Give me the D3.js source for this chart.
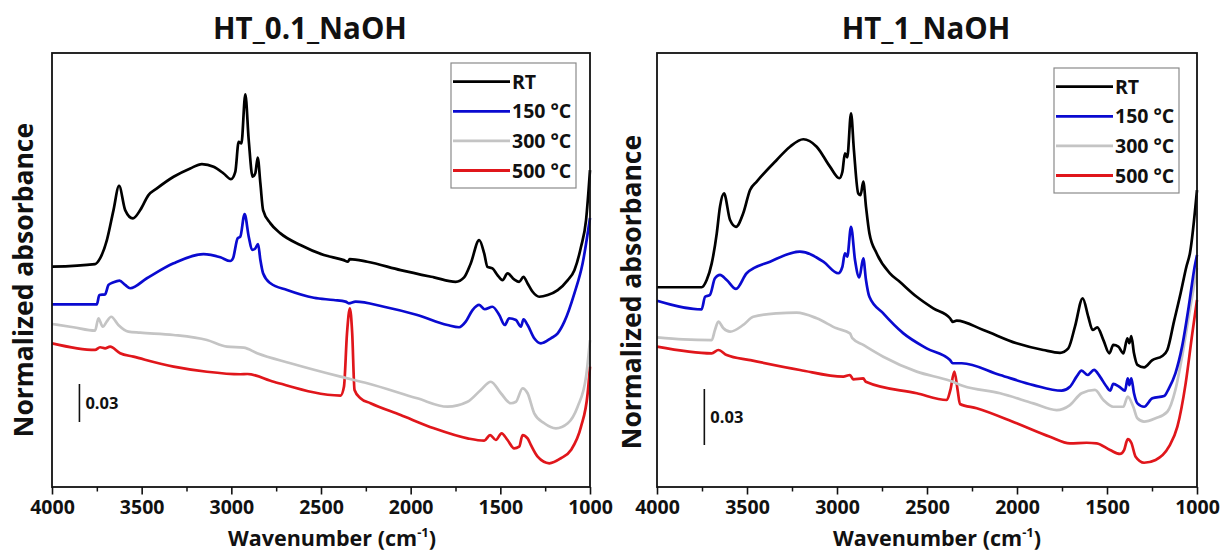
<!DOCTYPE html>
<html><head><meta charset="utf-8">
<script src="https://cdn.jsdelivr.net/npm/d3@7"></script>
<style>
body{margin:0;background:#fff;}
svg{display:block;font-family:"Open Sans",sans-serif;font-weight:700;}
</style></head><body>
<svg id="chart" width="1221" height="551"></svg>
<script>
// ---------- DATA ----------
const majorTicks = [4000, 3500, 3000, 2500, 2000, 1500, 1000];
const minorTicks = [3750, 3250, 2750, 2250, 1750, 1250];
const seriesLabels = ["RT", "150 °C", "300 °C", "500 °C"];
const panelTitles = ["HT_0.1_NaOH", "HT_1_NaOH"];
const scaleBarValue = 0.03;

// HT_0.1_NaOH  [wavenumber, normalized absorbance (offset)]
const a_RT = [[4000,0.1739],[3760,0.1760],[3732,0.1805],[3694,0.1949],[3657,0.2186],[3626,0.2378],[3592,0.2186],[3549,0.2120],[3508,0.2186],[3462,0.2304],[3415,0.2357],[3322,0.2449],[3229,0.2515],[3164,0.2549],[3099,0.2528],[3043,0.2475],[3002,0.2430],[2978,0.2488],[2959,0.2725],[2944,0.2712],[2922,0.3099],[2903,0.2738],[2881,0.2449],[2866,0.2478],[2853,0.2601],[2838,0.2396],[2823,0.2186],[2782,0.2081],[2726,0.2002],[2615,0.1910],[2484,0.1831],[2373,0.1791],[2350,0.1778],[2340,0.1799],[2242,0.1778],[2056,0.1712],[1870,0.1655],[1749,0.1620],[1702,0.1655],[1665,0.1765],[1618,0.1949],[1590,0.1844],[1572,0.1738],[1544,0.1726],[1516,0.1673],[1488,0.1633],[1460,0.1686],[1423,0.1639],[1395,0.1620],[1371,0.1659],[1348,0.1607],[1320,0.1541],[1283,0.1502],[1236,0.1515],[1180,0.1554],[1124,0.1633],[1087,0.1712],[1050,0.1896],[1022,0.2107],[1000,0.2501]];
const a_150 = [[4000,0.1442],[3750,0.1442],[3736,0.1516],[3704,0.1521],[3685,0.1595],[3657,0.1616],[3624,0.1629],[3592,0.1595],[3564,0.1569],[3471,0.1648],[3322,0.1766],[3155,0.1839],[3061,0.1813],[3006,0.1784],[2990,0.1808],[2965,0.1963],[2950,0.1976],[2926,0.2155],[2903,0.1976],[2884,0.1871],[2866,0.1884],[2851,0.1918],[2838,0.1792],[2823,0.1687],[2782,0.1608],[2689,0.1555],[2540,0.1494],[2429,0.1476],[2363,0.1463],[2345,0.1450],[2307,0.1463],[2149,0.1423],[1963,0.1358],[1795,0.1279],[1730,0.1261],[1693,0.1305],[1655,0.1397],[1618,0.1437],[1587,0.1403],[1544,0.1423],[1506,0.1358],[1475,0.1279],[1451,0.1332],[1413,0.1318],[1385,0.1265],[1371,0.1324],[1348,0.1279],[1311,0.1174],[1274,0.1134],[1218,0.1174],[1180,0.1213],[1143,0.1305],[1087,0.1529],[1041,0.1766],[1000,0.2124]];
const a_300 = [[4000,0.1287],[3881,0.1261],[3760,0.1234],[3741,0.1332],[3717,0.1265],[3695,0.1305],[3670,0.1344],[3630,0.1279],[3574,0.1226],[3508,0.1218],[3322,0.1200],[3136,0.1160],[3024,0.1108],[2931,0.1100],[2856,0.1056],[2670,0.0977],[2391,0.0871],[2242,0.0819],[1963,0.0700],[1795,0.0634],[1683,0.0673],[1609,0.0766],[1553,0.0831],[1497,0.0740],[1441,0.0661],[1413,0.0673],[1376,0.0779],[1348,0.0740],[1311,0.0582],[1255,0.0503],[1190,0.0463],[1124,0.0503],[1069,0.0634],[1022,0.0871],[1000,0.1160]];
const a_500 = [[4000,0.1134],[3760,0.1082],[3732,0.1103],[3704,0.1095],[3676,0.1108],[3620,0.1056],[3546,0.1029],[3322,0.0950],[3136,0.0910],[2950,0.0890],[2910,0.0892],[2764,0.0831],[2391,0.0722],[2372,0.0792],[2355,0.1213],[2339,0.1411],[2326,0.1213],[2313,0.0766],[2280,0.0700],[2224,0.0661],[2056,0.0568],[1870,0.0463],[1683,0.0384],[1590,0.0366],[1557,0.0410],[1525,0.0371],[1493,0.0424],[1460,0.0371],[1423,0.0305],[1395,0.0318],[1376,0.0410],[1348,0.0384],[1330,0.0332],[1292,0.0239],[1227,0.0187],[1162,0.0227],[1106,0.0292],[1050,0.0476],[1013,0.0740],[1000,0.0950]];

// HT_1_NaOH
const b_RT = [[4000,0.1070],[3752,0.1070],[3724,0.1109],[3696,0.1198],[3668,0.1359],[3650,0.1502],[3628,0.1573],[3594,0.1430],[3561,0.1394],[3521,0.1466],[3483,0.1591],[3446,0.1636],[3335,0.1752],[3261,0.1823],[3187,0.1863],[3113,0.1823],[3039,0.1716],[2987,0.1654],[2970,0.1689],[2956,0.1788],[2943,0.1766],[2922,0.2002],[2906,0.1805],[2882,0.1573],[2869,0.1564],[2854,0.1636],[2839,0.1502],[2820,0.1359],[2780,0.1252],[2706,0.1145],[2650,0.1098],[2557,0.1019],[2465,0.0957],[2372,0.0904],[2357,0.0885],[2335,0.0891],[2187,0.0841],[2002,0.0770],[1854,0.0734],[1761,0.0719],[1715,0.0743],[1678,0.0859],[1635,0.1011],[1604,0.0912],[1580,0.0841],[1554,0.0855],[1520,0.0787],[1487,0.0716],[1465,0.0761],[1437,0.0752],[1409,0.0716],[1387,0.0797],[1376,0.0770],[1365,0.0809],[1350,0.0716],[1331,0.0654],[1294,0.0641],[1248,0.0680],[1193,0.0702],[1165,0.0734],[1128,0.0886],[1091,0.1038],[1059,0.1180],[1039,0.1254],[1000,0.1591]];
const b_150 = [[4000,0.0998],[3752,0.0952],[3733,0.1019],[3706,0.1029],[3678,0.1118],[3650,0.1136],[3613,0.1109],[3561,0.1061],[3502,0.1145],[3372,0.1207],[3206,0.1261],[3076,0.1207],[2993,0.1145],[2970,0.1180],[2956,0.1252],[2943,0.1234],[2922,0.1394],[2900,0.1216],[2876,0.1123],[2854,0.1225],[2839,0.1109],[2820,0.1019],[2743,0.0930],[2631,0.0823],[2502,0.0743],[2372,0.0680],[2357,0.0663],[2307,0.0663],[2094,0.0600],[1909,0.0546],[1752,0.0516],[1706,0.0537],[1669,0.0591],[1641,0.0623],[1607,0.0600],[1572,0.0627],[1539,0.0591],[1502,0.0537],[1483,0.0516],[1465,0.0552],[1432,0.0537],[1400,0.0516],[1385,0.0582],[1376,0.0546],[1365,0.0582],[1350,0.0502],[1331,0.0448],[1294,0.0430],[1248,0.0475],[1183,0.0487],[1156,0.0529],[1120,0.0609],[1083,0.0752],[1046,0.0966],[1013,0.1180],[1000,0.1243]];
const b_300 = [[4000,0.0802],[3854,0.0791],[3696,0.0787],[3678,0.0841],[3659,0.0886],[3631,0.0850],[3594,0.0832],[3521,0.0868],[3465,0.0912],[3335,0.0930],[3224,0.0934],[3113,0.0904],[3002,0.0850],[2928,0.0823],[2915,0.0797],[2854,0.0761],[2743,0.0698],[2557,0.0618],[2372,0.0569],[2298,0.0541],[2094,0.0502],[1909,0.0448],[1780,0.0412],[1706,0.0439],[1641,0.0502],[1567,0.0520],[1520,0.0466],[1465,0.0430],[1409,0.0430],[1385,0.0484],[1354,0.0430],[1331,0.0368],[1294,0.0350],[1230,0.0368],[1165,0.0403],[1120,0.0520],[1083,0.0698],[1046,0.0912],[1000,0.1173]];
const b_500 = [[4000,0.0752],[3696,0.0716],[3659,0.0734],[3613,0.0707],[3483,0.0680],[3206,0.0627],[2965,0.0591],[2928,0.0600],[2910,0.0577],[2854,0.0582],[2840,0.0564],[2557,0.0502],[2390,0.0466],[2370,0.0520],[2348,0.0618],[2330,0.0520],[2317,0.0445],[2224,0.0422],[2002,0.0341],[1817,0.0269],[1706,0.0234],[1613,0.0237],[1557,0.0234],[1483,0.0198],[1428,0.0177],[1405,0.0198],[1385,0.0256],[1365,0.0237],[1341,0.0162],[1294,0.0130],[1230,0.0145],[1156,0.0216],[1109,0.0323],[1063,0.0555],[1026,0.0823],[1000,0.1002]];

// ---------- STYLE / LAYOUT ----------
const colors = ["#000000", "#0a0ad0", "#c4c4c4", "#e0161b"];
const panels = [
  { title: panelTitles[0], series: [a_RT, a_150, a_300, a_500], yMax: 0.3426,
    x0: 52, x1: 590, titleX: 310, yTitleX: 33, yTitleY: 280, xTitleX: 332,
    legendX: 451, legendY: 63, barWave: 3847, barBase: 0.0513 },
  { title: panelTitles[1], series: [b_RT, b_150, b_300, b_500], yMax: 0.2325,
    x0: 657, x1: 1197, titleX: 926, yTitleX: 641, yTitleY: 292, xTitleX: 937,
    legendX: 1054, legendY: 68, barWave: 3737, barBase: 0.0225 }
];
const plotTop = 53, plotBottom = 487;

const svg = d3.select("#chart");

panels.forEach(p => {
  const x = d3.scaleLinear().domain([4000, 1000]).range([p.x0, p.x1]);
  const y = d3.scaleLinear().domain([0, p.yMax]).range([plotBottom, plotTop]);
  const g = svg.append("g");

  // curves
  const line = d3.line().x(d => x(d[0])).y(d => y(d[1])).curve(d3.curveMonotoneX);
  [3, 2, 1, 0].forEach(i => {
    g.append("path").datum(p.series[i])
      .attr("d", line).attr("fill", "none")
      .attr("stroke", colors[i]).attr("stroke-width", 2.7)
      .attr("stroke-linejoin", "round");
  });

  // frame
  g.append("rect").attr("x", p.x0).attr("y", plotTop)
    .attr("width", p.x1 - p.x0).attr("height", plotBottom - plotTop)
    .attr("fill", "none").attr("stroke", "#111").attr("stroke-width", 1.8);

  // x axis major
  const ax = g.append("g").attr("transform", `translate(0,${plotBottom})`)
    .call(d3.axisBottom(x).tickValues(majorTicks).tickSize(7.5).tickPadding(6).tickFormat(d3.format("d")));
  ax.select(".domain").remove();
  ax.selectAll(".tick line").attr("stroke", "#111").attr("stroke-width", 1.6);
  ax.selectAll(".tick text").attr("font-family", "Open Sans").attr("font-weight", 700)
    .attr("font-size", 19.5).attr("fill", "#111");
  // x axis minor
  const axm = g.append("g").attr("transform", `translate(0,${plotBottom})`)
    .call(d3.axisBottom(x).tickValues(minorTicks).tickSize(4.5).tickFormat(""));
  axm.select(".domain").remove();
  axm.selectAll(".tick line").attr("stroke", "#111").attr("stroke-width", 1.5);

  // titles
  g.append("text").attr("x", p.titleX).attr("y", 38.5).attr("text-anchor", "middle")
    .attr("font-size", 29.5).attr("fill", "#111").text(p.title);
  const xt = g.append("text").attr("x", p.xTitleX).attr("y", 546).attr("text-anchor", "middle")
    .attr("font-size", 21.5).attr("fill", "#111");
  xt.append("tspan").text("Wavenumber (cm");
  xt.append("tspan").attr("font-size", 13).attr("dy", -9).text("-1");
  xt.append("tspan").attr("dy", 9).text(")");
  g.append("text").attr("transform", `translate(${p.yTitleX},${p.yTitleY}) rotate(-90)`)
    .attr("text-anchor", "middle").attr("font-size", 26.5).attr("fill", "#111")
    .text("Normalized absorbance");

  // scale bar
  const bx = x(p.barWave);
  g.append("line").attr("x1", bx).attr("x2", bx)
    .attr("y1", y(p.barBase)).attr("y2", y(p.barBase + scaleBarValue))
    .attr("stroke", "#111").attr("stroke-width", 1.6);
  g.append("text").attr("x", bx + 6).attr("y", (y(p.barBase) + y(p.barBase + scaleBarValue)) / 2 + 6)
    .attr("font-size", 16.5).attr("fill", "#111").text(d3.format(".2f")(scaleBarValue));

  // legend
  const lg = g.append("g").attr("transform", `translate(${p.legendX},${p.legendY})`);
  lg.append("rect").attr("width", 125).attr("height", 125)
    .attr("fill", "#fff").attr("stroke", "#8a8a8a").attr("stroke-width", 1.2);
  seriesLabels.forEach((lab, i) => {
    const ry = 18.7 + i * 29.6;
    lg.append("line").attr("x1", 2).attr("x2", 59).attr("y1", ry).attr("y2", ry)
      .attr("stroke", colors[i]).attr("stroke-width", 2.8);
    lg.append("text").attr("x", 61).attr("y", ry + 7).attr("font-size", 19.5)
      .attr("fill", "#111").text(lab);
  });
});
</script>
</body></html>
